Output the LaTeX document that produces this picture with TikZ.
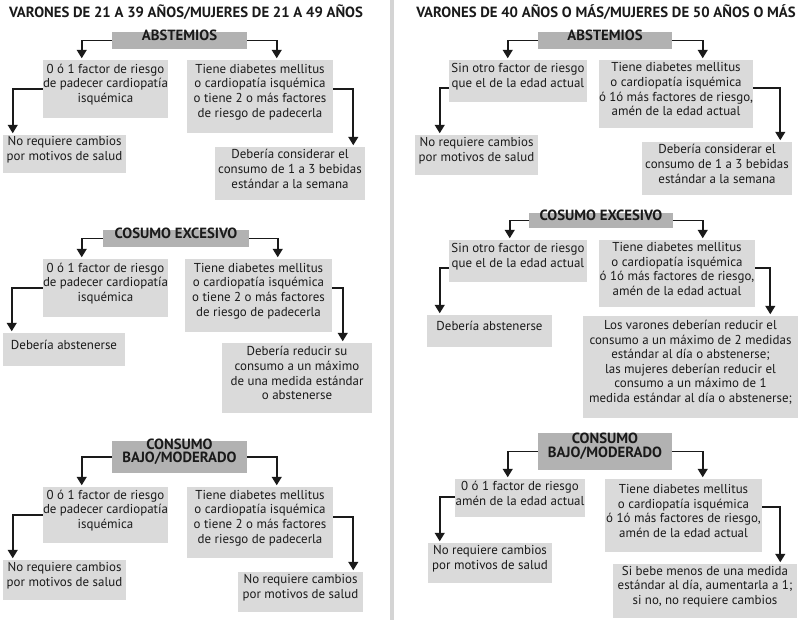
\documentclass[tikz,border=0pt]{standalone}
\usepackage{fontspec}
\setmainfont{PT Sans}
\usetikzlibrary{arrows.meta,positioning,calc,fit}
\definecolor{cajagris}{HTML}{DADADA}
\definecolor{titgris}{HTML}{B2B2B2}
\definecolor{tinta}{HTML}{1A1A1A}
\definecolor{divisor}{HTML}{D4D4D4}
\tikzset{
  flecha/.style={-{Triangle[length=2.1mm,width=2.4mm]}, line width=1.4pt, draw=tinta, shorten >=1pt},
  caja/.style={fill=cajagris, inner sep=0pt, align=center, text=tinta,
    font=\fontsize{9.2}{10.4}\selectfont},
  titulo/.style={fill=titgris, inner sep=0pt, align=center, text=tinta,
    font=\bfseries\fontsize{10.5}{9.8}\selectfont},
  encab/.style={text=tinta, font=\bfseries\fontsize{10.5}{12}\selectfont},
}

\begin{document}
\begin{tikzpicture}[x=0.025cm,y=-0.025cm]
\useasboundingbox (0,0) rectangle (800,620);
\fill[white] (0,0) rectangle (800,620);
% divider between the two age groups
\fill[divisor] (390,0) rectangle (394,620);

% ===================== left column: 21-39 / 21-49 ========================
\node[encab] (encI) at (186,12) {VARONES DE 21 A 39 AÑOS/MUJERES DE 21 A 49 AÑOS};

% abstemios
\node[titulo, fit={(112,32) (247,49)}] (abstI) {ABSTEMIOS};
\node[caja, fit={(43,60) (168,118)}] (l1)
  {0 ó 1 factor de riesgo\\de padecer cardiopatía\\isquémica};
\node[caja, fit={(187,60) (333,133)}] (l2)
  {Tiene diabetes mellitus\\o cardiopatía isquémica\\o tiene 2 o más factores\\de riesgo de padecerla};
\node[caja, fit={(3,135) (126,173)}] (l3)
  {No requiere cambios\\por motivos de salud};
\node[caja, fit={(215,147) (365,200)}] (l4)
  {Debería considerar el\\consumo de 1 a 3 bebidas\\estándar a la semana};
\draw[flecha] (abstI.west) -| ($(l1.north west)+(39,0)$);
\draw[flecha] (abstI.east) -| ($(l2.north west)+(90,0)$);
\draw[flecha] (l1.west) -| ($(l3.north west)+(10,0)$);
\draw[flecha] ($(l2.north east)!0.4!(l2.south east)$) -| ($(l4.north east)+(-12,0)$);

% consumo excesivo
\node[titulo, fit={(103,230) (249,247)}] (excI) {COSUMO EXCESIVO};
\node[caja, fit={(43,259) (168,317)}] (m1)
  {0 ó 1 factor de riesgo\\de padecer cardiopatía\\isquémica};
\node[caja, fit={(185,259) (332,332)}] (m2)
  {Tiene diabetes mellitus\\o cardiopatía isquémica\\o tiene 2 o más factores\\de riesgo de padecerla};
\node[caja, fit={(3,333) (125,366)}] (m3) {Debería abstenerse};
\node[caja, fit={(222,343) (372,413)}] (m4)
  {Debería reducir su\\consumo a un máximo\\de una medida estándar\\o abstenerse};
\draw[flecha] (excI.west) -| ($(m1.north west)+(39,0)$);
\draw[flecha] (excI.east) -| ($(m2.north west)+(93,0)$);
\draw[flecha] (m1.west) -| ($(m3.north west)+(9,0)$);
\draw[flecha] ($(m2.north east)!0.4!(m2.south east)$) -| ($(m4.north west)+(121,0)$);

% consumo bajo/moderado
\node[titulo, fit={(112,441) (247,473)}] (bajoI) {CONSUMO\\BAJO/MODERADO};
\node[caja, fit={(43,487) (168,543)}] (b1)
  {0 ó 1 factor de riesgo\\de padecer cardiopatía\\isquémica};
\node[caja, fit={(187,487) (333,558)}] (b2)
  {Tiene diabetes mellitus\\o cardiopatía isquémica\\o tiene 2 o más factores\\de riesgo de padecerla};
\node[caja, fit={(3,560) (126,600)}] (b3)
  {No requiere cambios\\por motivos de salud};
\node[caja, fit={(238,572) (363,612)}] (b4)
  {No requiere cambios\\por motivos de salud};
\draw[flecha] (bajoI.west) -| ($(b1.north west)+(39,0)$);
\draw[flecha] (bajoI.east) -| ($(b2.north west)+(90,0)$);
\draw[flecha] (b1.west) -| ($(b3.north west)+(10,0)$);
\draw[flecha] ($(b2.north east)!0.42!(b2.south east)$) -| ($(b4.north east)+(-10,0)$);

% ===================== right column: 40+ / 50+ ===========================
\node[encab] (encD) at (606,12) {VARONES DE 40 AÑOS O MÁS/MUJERES DE 50 AÑOS O MÁS};

% abstemios
\node[titulo, fit={(538,32) (672,49)}] (abstD) {ABSTEMIOS};
\node[caja, fit={(449,60) (587,102)}] (r1)
  {Sin otro factor de riesgo\\que el de la edad actual};
\node[caja, fit={(599,60) (753,128)}] (r2)
  {Tiene diabetes mellitus\\o cardiopatía isquémica\\ó 1ó más factores de riesgo,\\amén de la edad actual};
\node[caja, fit={(415,135) (538,175)}] (r3)
  {No requiere cambios\\por motivos de salud};
\node[caja, fit={(642,142) (792,195)}] (r4)
  {Debería considerar el\\consumo de 1 a 3 bebidas\\estándar a la semana};
\draw[flecha] (abstD.west) -| ($(r1.north west)+(59,0)$);
\draw[flecha] (abstD.east) -| ($(r2.north west)+(104,0)$);
\draw[flecha] ($(r1.north west)!0.67!(r1.south west)$) -| ($(r3.north west)+(25,0)$);
\draw[flecha] ($(r2.north east)!0.41!(r2.south east)$) -| ($(r4.north east)+(-12,0)$);

% consumo excesivo
\node[titulo, fit={(529,213) (673,228)}] (excD) {COSUMO EXCESIVO};
\node[caja, fit={(449,240) (587,282)}] (r5)
  {Sin otro factor de riesgo\\que el de la edad actual};
\node[caja, fit={(599,240) (755,307)}] (r6)
  {Tiene diabetes mellitus\\o cardiopatía isquémica\\ó 1ó más factores de riesgo,\\amén de la edad actual};
\node[caja, fit={(427,315) (552,347)}] (r7) {Debería abstenerse};
\node[caja, fit={(583,316) (798,418)}] (r8)
  {Los varones deberían reducir el\\consumo a un máximo de 2 medidas\\estándar al día o abstenerse;\\
   las mujeres deberían reducir el\\consumo a un máximo de 1\\medida estándar al día o abstenerse;};
\draw[flecha] (excD.west) -| ($(r5.north west)+(61,0)$);
\draw[flecha] (excD.east) -| ($(r6.north west)+(104,0)$);
\draw[flecha] ($(r5.north west)!0.67!(r5.south west)$) -| ($(r7.north west)+(13,0)$);
\draw[flecha] ($(r6.north east)!0.42!(r6.south east)$) -| ($(r8.north east)+(-28,0)$);

% consumo bajo/moderado
\node[titulo, fit={(538,433) (672,470)}] (bajoD) {CONSUMO\\BAJO/MODERADO};
\node[caja, fit={(455,479) (585,517)}] (r9)
  {0 ó 1 factor de riesgo\\amén de la edad actual};
\node[caja, fit={(605,479) (762,552)}] (r10)
  {Tiene diabetes mellitus\\o cardiopatía isquémica\\ó 1ó más factores de riesgo,\\amén de la edad actual};
\node[caja, fit={(428,543) (552,583)}] (r11)
  {No requiere cambios\\por motivos de salud};
\node[caja, fit={(613,564) (797,618)}] (r12)
  {Si bebe menos de una medida\\estándar al día, aumentarla a 1;\\si no, no requiere cambios};
\draw[flecha] (bajoD.west) -| ($(r9.north west)+(53,0)$);
\draw[flecha] (bajoD.east) -| ($(r10.north west)+(98,0)$);
\draw[flecha] ($(r9.north west)!0.47!(r9.south west)$) -| ($(r11.north west)+(12,0)$);
\draw[flecha] ($(r10.north east)!0.38!(r10.south east)$) -| ($(r12.north east)+(-17,0)$);

\end{tikzpicture}
\end{document}
